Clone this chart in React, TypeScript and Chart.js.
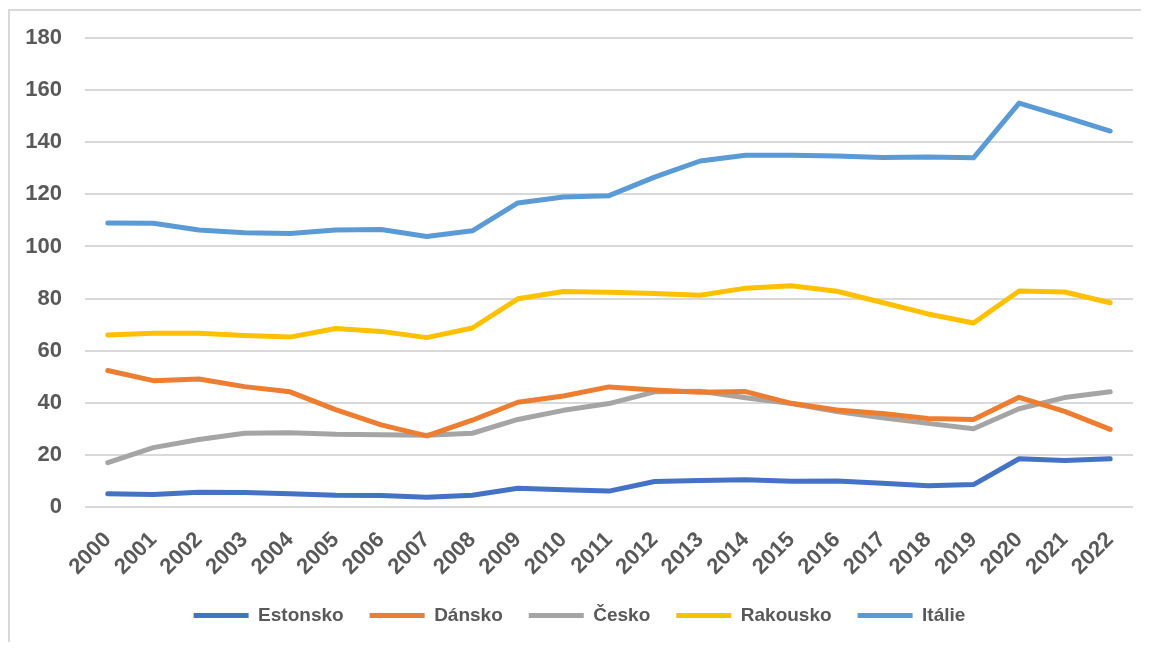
import React, { useEffect, useRef } from "react";
import { Chart, registerables } from "chart.js";

Chart.register(...registerables);

const years = [
  "2000", "2001", "2002", "2003", "2004", "2005", "2006", "2007", "2008", "2009", "2010", "2011",
  "2012", "2013", "2014", "2015", "2016", "2017", "2018", "2019", "2020", "2021", "2022",
];

const estonsko = [5.1, 4.8, 5.7, 5.6, 5.1, 4.5, 4.4, 3.7, 4.5, 7.2, 6.6, 6.1, 9.8, 10.2, 10.5, 9.9, 10.0, 9.1, 8.2, 8.6, 18.5, 17.8, 18.5];
const dansko = [52.4, 48.5, 49.1, 46.2, 44.2, 37.4, 31.5, 27.3, 33.3, 40.2, 42.6, 46.1, 44.9, 44.0, 44.3, 39.8, 37.2, 35.9, 34.0, 33.6, 42.1, 36.7, 29.8];
const cesko = [17.0, 22.8, 25.9, 28.3, 28.5, 27.9, 27.7, 27.5, 28.3, 33.6, 37.1, 39.7, 44.2, 44.4, 41.9, 39.7, 36.6, 34.2, 32.1, 30.0, 37.7, 42.0, 44.2];
const rakousko = [66.0, 66.7, 66.7, 65.8, 65.2, 68.5, 67.4, 65.0, 68.7, 79.9, 82.7, 82.4, 81.9, 81.3, 84.0, 84.9, 82.8, 78.5, 74.1, 70.6, 82.9, 82.5, 78.4];
const italie = [109.0, 108.9, 106.3, 105.3, 105.0, 106.3, 106.5, 103.8, 106.0, 116.7, 119.0, 119.5, 126.6, 132.8, 135.0, 135.0, 134.7, 134.1, 134.3, 134.0, 155.0, 149.7, 144.3];

const seriesNames = ["Estonsko", "Dánsko", "Česko", "Rakousko", "Itálie"];
const seriesColors = ["#4472C4", "#ED7D31", "#A5A5A5", "#FFC000", "#5B9BD5"];
const seriesValues = [estonsko, dansko, cesko, rakousko, italie];

const yMin = 0;
const yMax = 180;
const yStep = 20;

const FONT = "'Liberation Sans', Arial, sans-serif";
const TEXT_COLOR = "#595959";

export default function App() {
  const canvasRef = useRef<HTMLCanvasElement | null>(null);

  useEffect(() => {
    if (!canvasRef.current) return;
    const chart = new Chart(canvasRef.current, {
      type: "line",
      data: {
        labels: years,
        datasets: seriesNames.map((name, i) => ({
          label: name,
          data: seriesValues[i],
          borderColor: seriesColors[i],
          backgroundColor: seriesColors[i],
          borderWidth: 5,
          borderCapStyle: "round" as const,
          borderJoinStyle: "round" as const,
          pointRadius: 0,
          pointHoverRadius: 0,
          tension: 0,
          fill: false,
        })),
      },
      options: {
        animation: false,
        responsive: false,
        maintainAspectRatio: false,
        layout: { padding: { left: 18, right: 16, top: 30, bottom: 7 } },
        plugins: {
          tooltip: { enabled: false },
          legend: {
            position: "bottom",
            labels: {
              boxWidth: 55,
              boxHeight: 5,
              padding: 26,
              color: TEXT_COLOR,
              font: { family: FONT, size: 19, weight: "bold" },
              generateLabels: (c: any) => {
                const items = Chart.defaults.plugins.legend.labels.generateLabels(c);
                return items.map((it: any, i: number) => ({
                  ...it,
                  fillStyle: seriesColors[i],
                  strokeStyle: seriesColors[i],
                  lineWidth: 0,
                }));
              },
            },
          },
        },
        scales: {
          x: {
            offset: true,
            grid: { display: false, drawTicks: false },
            border: { display: false },
            ticks: {
              color: TEXT_COLOR,
              font: { family: FONT, size: 22, weight: "bold" },
              minRotation: 45,
              maxRotation: 45,
              padding: 20,
              autoSkip: false,
            },
            afterFit: (scale: any) => {
              scale.paddingLeft = 0;
              scale.paddingRight = 0;
              scale.height = 73;
            },
          },
          y: {
            min: yMin,
            max: yMax,
            grid: { color: "#d9d9d9", lineWidth: 2, drawTicks: false },
            border: { display: false },
            ticks: {
              stepSize: yStep,
              color: TEXT_COLOR,
              font: { family: FONT, size: 22, weight: "bold" },
              padding: 23,
            },
            afterFit: (scale: any) => {
              scale.width = 59;
              scale.paddingTop = 0;
              scale.paddingBottom = 0;
            },
          },
        },
      },
    });
    return () => chart.destroy();
  }, []);

  return (
    <div style={{ position: "relative", width: 1141, height: 634 }}>
      <div
        style={{
          position: "absolute",
          left: 0,
          top: 1,
          right: 0,
          bottom: 0,
          borderLeft: "2px solid #d9d9d9",
          borderTop: "2px solid #d9d9d9",
          pointerEvents: "none",
        }}
      />
      <canvas ref={canvasRef} width={1141} height={634} style={{ display: "block", position: "relative" }} />
    </div>
  );
}
